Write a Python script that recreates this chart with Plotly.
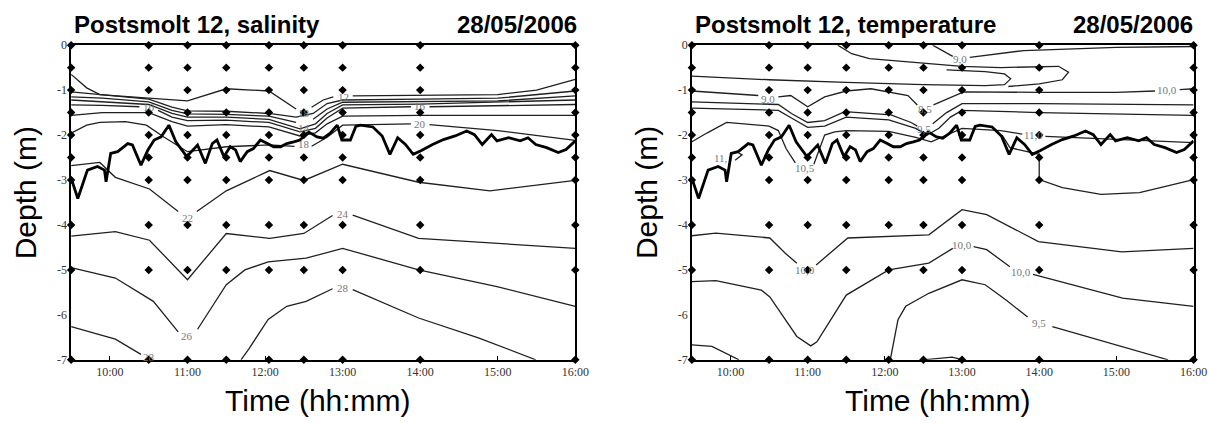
import plotly.graph_objects as go

# ---------------- data ----------------
time_ticks = [10, 11, 12, 13, 14, 15, 16]
time_labels = ["10:00", "11:00", "12:00", "13:00", "14:00", "15:00", "16:00"]
depth_ticks = [0, -1, -2, -3, -4, -5, -6, -7]
depth_labels = ["0", "-1", "-2", "-3", "-4", "-5", "-6", "-7"]

station_t = [9.5, 10.5, 11.0, 11.5, 12.05, 12.5, 13.0, 14.0, 16.0]
station_d = [0, -0.5, -1, -1.5, -2, -2.5, -3, -4, -5, -7]

# fish depth track (time h, depth m)
fish_t = [9.5, 9.586, 9.71, 9.84, 9.93, 9.95, 10.01, 10.1, 10.23, 10.29, 10.4, 10.49, 10.57, 10.66,
          10.76, 10.85, 10.99, 11.13, 11.23, 11.32, 11.38, 11.47, 11.55, 11.62, 11.68, 11.77, 11.85,
          11.94, 12.03, 12.11, 12.2, 12.28, 12.37, 12.45, 12.56, 12.67, 12.75, 12.84, 12.93, 12.99,
          13.1, 13.17, 13.23, 13.39, 13.51, 13.61, 13.71, 13.81, 13.91, 14.01, 14.16, 14.3, 14.45,
          14.6, 14.7, 14.8, 14.92, 14.99, 15.14, 15.29, 15.39, 15.49, 15.63, 15.78, 15.88, 16.0]
fish_d = [-2.96, -3.41, -2.78, -2.70, -2.78, -3.04, -2.41, -2.37, -2.19, -2.22, -2.67, -2.33, -2.11, -2.04,
          -1.78, -2.15, -2.48, -2.22, -2.63, -2.19, -2.11, -2.48, -2.26, -2.33, -2.59, -2.37, -2.30,
          -2.11, -2.19, -2.26, -2.26, -2.19, -2.15, -2.11, -1.93, -2.04, -2.07, -1.96, -1.78, -2.11,
          -2.11, -1.81, -1.78, -1.82, -2.02, -2.43, -2.06, -2.21, -2.43, -2.35, -2.21, -2.10, -2.02,
          -1.91, -1.99, -2.21, -1.99, -2.13, -2.06, -2.13, -2.06, -2.21, -2.28, -2.39, -2.32, -2.13]

# salinity isolines, (time, depth) pairs; None = gap for label
sal_12 = [(9.5, -0.65), (9.7, -0.95), (9.87, -1.1), (10.5, -1.18), (11.0, -1.24), (11.5, -0.97), (12.05, -1.02),
          (12.4, -1.42), None, (12.6, -1.38), (12.75, -1.22), (12.88, -1.15), None, (13.13, -1.13), (14.0, -1.12),
          (15.0, -1.1), (15.5, -1.0), (16.0, -0.76)]
sal_13 = [(9.5, -1.04), (9.9, -1.1), (10.5, -1.2), (10.8, -1.38), (11.0, -1.46), (11.5, -1.47), (12.05, -1.52),
          (12.4, -1.6), (12.62, -1.52), (12.8, -1.3), (13.0, -1.22), (14.0, -1.2), (15.0, -1.18), (16.0, -1.02)]
sal_14 = [(9.5, -1.15), (9.9, -1.18), (10.5, -1.26), (10.8, -1.45), (11.0, -1.53), (11.5, -1.54), (12.05, -1.58),
          (12.4, -1.72), None, (12.62, -1.65), (12.8, -1.42), (13.0, -1.27), (14.0, -1.26), (15.0, -1.24), (16.0, -1.13)]
sal_15 = [(9.5, -1.22), (9.9, -1.26), (10.5, -1.32), (10.8, -1.52), (11.0, -1.6), (11.5, -1.6), (12.05, -1.65),
          (12.45, -1.86), (12.65, -1.75), (12.8, -1.52), (13.0, -1.33), (14.0, -1.31), (16.0, -1.22)]
sal_16 = [(9.5, -1.33), (9.9, -1.34), (10.38, -1.37), None, (10.62, -1.45), (10.8, -1.6), (11.0, -1.68), (11.5, -1.67),
          (12.05, -1.72), (12.45, -1.93), (12.65, -1.85), (12.8, -1.62), (13.0, -1.4), (13.88, -1.37), None,
          (14.12, -1.37), (16.0, -1.32)]
sal_18 = [(9.5, -1.56), (9.9, -1.5), (10.5, -1.5), (10.8, -1.7), (11.0, -1.8), (11.5, -1.77), (12.05, -1.82),
          (12.45, -2.02), (12.65, -1.95), (12.8, -1.75), (13.0, -1.58), (14.0, -1.56), (16.0, -1.56)]
sal_20 = [(9.5, -1.96), (9.7, -1.78), (9.87, -1.72), (10.2, -1.7), (10.47, -1.78), (10.7, -2.05), (11.0, -2.37),
          (11.5, -2.26), (12.05, -2.22), (12.38, -2.25), None, (12.6, -2.25), (12.8, -2.05), (13.0, -1.78),
          (13.88, -1.75), None, (14.12, -1.77), (15.0, -1.9), (16.0, -2.12)]
sal_22 = [(9.5, -2.68), (9.87, -2.61), (10.07, -2.94), (10.51, -3.2), (10.88, -3.7), None, (11.12, -3.7),
          (11.5, -3.24), (12.06, -2.79), (12.5, -3.01), (13.0, -2.65), (13.98, -3.05), (14.9, -3.24), (16.0, -3.01)]
sal_24 = [(9.5, -4.25), (10.07, -4.15), (10.51, -4.34), (11.0, -5.22), (11.5, -4.19), (12.06, -4.3), (12.5, -4.19),
          (12.87, -3.79), None, (13.13, -3.78), (13.98, -4.3), (16.0, -4.52)]
sal_26 = [(9.5, -4.95), (10.07, -5.18), (10.56, -5.7), (10.88, -6.38), None, (11.13, -6.32), (11.5, -5.33),
          (11.74, -5.0), (12.04, -4.82), (12.53, -4.74), (13.0, -4.52), (13.98, -5.0), (14.99, -5.37), (16.0, -5.81)]
sal_28a = [(9.5, -6.26), (10.07, -6.54), (10.4, -6.88)]
sal_28b = [(11.69, -7.0), (11.79, -6.76), (12.04, -6.1), (12.28, -5.81), (12.53, -5.7), (12.87, -5.42), None,
           (13.13, -5.44), (13.98, -6.07), (14.75, -6.51), (15.49, -7.0)]
sal_label_text = ["16", "18", "14", "18", "12", "16", "20", "22", "24", "26", "28", "28"]
sal_label_t = [10.5, 12.5, 12.5, 12.5, 13.01, 14.0, 14.0, 11.0, 13.0, 11.0, 13.0, 10.5]
sal_label_d = [-1.38, -1.51, -1.85, -2.2, -1.16, -1.36, -1.75, -3.84, -3.75, -6.47, -5.4, -6.93]

# temperature isolines
tmp_a = [(12.62, 0.0), (12.8, -0.17), (12.88, -0.25), None, (13.1, -0.27), (13.8, -0.12), (15.0, -0.05), (16.0, -0.03)]
tmp_b = [(11.39, 0.0), (11.57, -0.19), (11.8, -0.3), (12.5, -0.4), (13.0, -0.47), (13.5, -0.5), (14.0, -0.47),
         (14.25, -0.47), (14.38, -0.6), (14.3, -0.77), (14.0, -0.86), (13.6, -0.92)]
tmp_c = [(9.5, -0.69), (10.5, -0.77), (11.5, -0.83), (12.5, -0.88), (13.3, -0.9), (13.55, -0.88), (13.63, -0.75),
         (13.55, -0.64), (13.3, -0.59), (12.8, -0.55)]
tmp_v = [(9.5, -1.02), (10.36, -1.12), None, (10.62, -1.15), (10.78, -1.12), (11.0, -1.37), (11.22, -1.15),
         (11.5, -1.02), (11.82, -0.97), (12.3, -1.12), (12.42, -1.33), None, (12.63, -1.33), (12.82, -1.18),
         (13.02, -1.04), (14.0, -1.05), (15.0, -1.05), (15.5, -1.02), None, (15.82, -0.99), (16.0, -0.97)]
tmp_2 = [(9.5, -1.26), (10.4, -1.3), (10.62, -1.32), (10.79, -1.52), (11.0, -1.72), (11.22, -1.68), (11.48, -1.48),
         (12.08, -1.55), (12.34, -1.72), (12.42, -1.8), None, (12.62, -1.75), (12.8, -1.5), (13.0, -1.3),
         (14.0, -1.3), (16.0, -1.33)]
tmp_3 = [(9.5, -1.4), (10.4, -1.43), (10.62, -1.45), (10.79, -1.62), (11.0, -1.83), (11.22, -1.8), (11.5, -1.6),
         (12.05, -1.66), (12.4, -1.85), (12.55, -2.0), (12.7, -1.85), (12.85, -1.6), (13.0, -1.45), (14.0, -1.5),
         (16.0, -1.56)]
tmp_4 = [(9.5, -2.15), (9.7, -1.95), (9.95, -1.72), (10.5, -1.8), (10.62, -1.9), (10.72, -2.3), (10.84, -2.62), None,
         (11.08, -2.65), (11.15, -2.3), (11.22, -2.0), (11.35, -1.93), (11.5, -1.9), (12.05, -1.92), (12.4, -2.05),
         (12.6, -2.15), (12.8, -2.0), (13.0, -1.85), (13.5, -1.9), (13.78, -1.98), None, (14.08, -2.03),
         (15.0, -2.1), (16.0, -2.17)]
tmp_curl = [(10.06, -2.56), (10.15, -2.44), (10.08, -2.37)]
tmp_box = [(13.52, -2.0), (13.62, -2.28), (14.0, -2.43), (14.0, -2.99), (14.3, -3.17), (14.8, -3.32), (15.3, -3.28),
           (16.0, -2.99)]
tmp_L1 = [(9.5, -4.24), (9.81, -4.18), (10.51, -4.29), (10.71, -4.63), (10.86, -4.85), None, (11.11, -4.89),
          (11.52, -4.29), (12.57, -4.22), (13.0, -3.66), (13.32, -3.77), (13.99, -4.37), (15.07, -4.6), (16.0, -4.52)]
tmp_L2 = [(9.5, -5.26), (9.81, -5.24), (10.4, -5.45), (10.51, -5.6), (10.86, -6.48), (11.04, -6.69), (11.12, -6.6),
          (11.5, -5.56), (12.05, -5.0), (12.57, -4.85), (12.88, -4.52), None, (13.15, -4.48), (13.32, -4.55),
          (13.62, -4.93), None, (13.92, -5.1), (15.08, -5.63), (16.0, -5.81)]
tmp_L3 = [(12.07, -7.0), (12.17, -6.11), (12.27, -5.81), (12.57, -5.52), (13.0, -5.22), (13.3, -5.33), (13.57, -5.67),
          (13.85, -6.05), None, (14.17, -6.26), (14.85, -6.59), (15.67, -7.0)]
tmp_L4 = [(9.5, -6.67), (9.76, -6.7), (10.11, -7.0)]
tmp_L5 = [(12.5, -7.0), (12.87, -6.94), (13.01, -7.0)]
tmp_label_text = ["9,0", "9,0", "8,5", "9,5", "10,0", "11,", "10,5", "11,0", "10,0", "10,0", "10,0", "9,5"]
tmp_label_t = [12.98, 10.49, 12.52, 12.51, 15.65, 9.88, 10.96, 13.93, 10.97, 13.0, 13.77, 14.0]
tmp_label_d = [-0.3, -1.2, -1.42, -1.86, -1.0, -2.51, -2.74, -2.0, -5.0, -4.44, -5.04, -6.19]

sal_lines = [sal_12, sal_13, sal_14, sal_15, sal_16, sal_18, sal_20, sal_22, sal_24, sal_26, sal_28a, sal_28b]
tmp_lines = [tmp_a, tmp_b, tmp_c, tmp_v, tmp_2, tmp_3, tmp_4, tmp_curl, tmp_box, tmp_L1, tmp_L2, tmp_L3, tmp_L4, tmp_L5]

# ---------------- figure ----------------
W, H = 1209, 423


# layout positions: reference pixel -> page pixel (corrects the small capture scaling seen in test renders)
def fx(px):
    return min((px + 1.4) / 0.992, W) / W


def fy(py):
    return 1 - (py - 6.8) / 0.968 / H


fig = go.Figure()


def split(pairs):
    xs, ys = [], []
    for p in pairs:
        if p is None:
            xs.append(None); ys.append(None)
        else:
            xs.append(p[0]); ys.append(p[1])
    return xs, ys


panels = [("x", "y", sal_lines, sal_label_text, sal_label_t, sal_label_d),
          ("x2", "y2", tmp_lines, tmp_label_text, tmp_label_t, tmp_label_d)]

for xa, ya, lines, ltxt, lt, ld in panels:
    for ln in lines:
        xs, ys = split(ln)
        fig.add_trace(go.Scatter(x=xs, y=ys, mode="lines", xaxis=xa, yaxis=ya,
                                 line=dict(color="#202020", width=1.3), connectgaps=False,
                                 showlegend=False, hoverinfo="skip"))
    fig.add_trace(go.Scatter(x=fish_t, y=fish_d, mode="lines", xaxis=xa, yaxis=ya,
                             line=dict(color="black", width=2.8), showlegend=False))
    sx, sy = [], []
    for t in station_t:
        for d in station_d:
            sx.append(t); sy.append(d)
    fig.add_trace(go.Scatter(x=sx, y=sy, mode="markers", xaxis=xa, yaxis=ya,
                             marker=dict(symbol="diamond", size=6.5, color="black"),
                             showlegend=False, cliponaxis=False))
    for txt, t, d in zip(ltxt, lt, ld):
        fig.add_annotation(x=t, y=d, xref=xa, yref=ya, text=txt, showarrow=False,
                           font=dict(family="Liberation Serif", size=11, color="#777777"))

ydom = [fy(360), fy(45)]
axis_common = dict(showline=True, linecolor="black", linewidth=1.5, mirror=True, showgrid=False,
                   zeroline=False, tickfont=dict(family="Liberation Serif", size=12, color="#333333"))
fig.update_layout(
    autosize=True, margin=dict(l=0, r=0, t=0, b=0),
    paper_bgcolor="white", plot_bgcolor="white",
    xaxis=dict(domain=[fx(70), fx(576)], range=[9.5, 16], tickvals=time_ticks, ticktext=time_labels,
               ticks="inside", ticklen=4, tickcolor="black", anchor="y", **axis_common),
    yaxis=dict(domain=ydom, range=[-7, 0], tickvals=depth_ticks, ticktext=depth_labels,
               ticks="", anchor="x", **axis_common),
    xaxis2=dict(domain=[fx(693), fx(1196.5)], range=[9.5, 16], tickvals=time_ticks, ticktext=time_labels,
                ticks="inside", ticklen=4, tickcolor="black", anchor="y2", **axis_common),
    yaxis2=dict(domain=ydom, range=[-7, 0], tickvals=depth_ticks, ticktext=depth_labels,
                ticks="", anchor="x2", **axis_common),
)

title_font = dict(family="Liberation Sans", size=24, color="black")
axt_font = dict(family="Liberation Sans", size=30, color="black")
for x0, x1, name, xc, tc in [(71, 580, "Postsmolt 12, salinity", 25, 318),
                             (694, 1198, "Postsmolt 12, temperature", 648, 940)]:
    fig.add_annotation(x=fx(x0), y=fy(24), xref="paper", yref="paper", text="<b>" + name + "</b>",
                       showarrow=False, xanchor="left", yanchor="middle", font=title_font)
    fig.add_annotation(x=fx(x1), y=fy(24), xref="paper", yref="paper", text="<b>28/05/2006</b>",
                       showarrow=False, xanchor="right", yanchor="middle", font=title_font)
    fig.add_annotation(x=fx(xc), y=fy(193), xref="paper", yref="paper", text="Depth (m)",
                       showarrow=False, textangle=-90, xanchor="center", yanchor="middle", font=axt_font)
    fig.add_annotation(x=fx(tc), y=fy(401), xref="paper", yref="paper", text="Time (hh:mm)",
                       showarrow=False, xanchor="center", yanchor="middle", font=axt_font)

fig.write_html(
    "out.html",
    default_width="100vw", default_height="100vh",
    config={"displayModeBar": False, "responsive": True},
    post_script="document.body.style.margin='0px';document.body.style.overflow='hidden';"
                "Plotly.Plots.resize(document.getElementById('{plot_id}'));",
)
